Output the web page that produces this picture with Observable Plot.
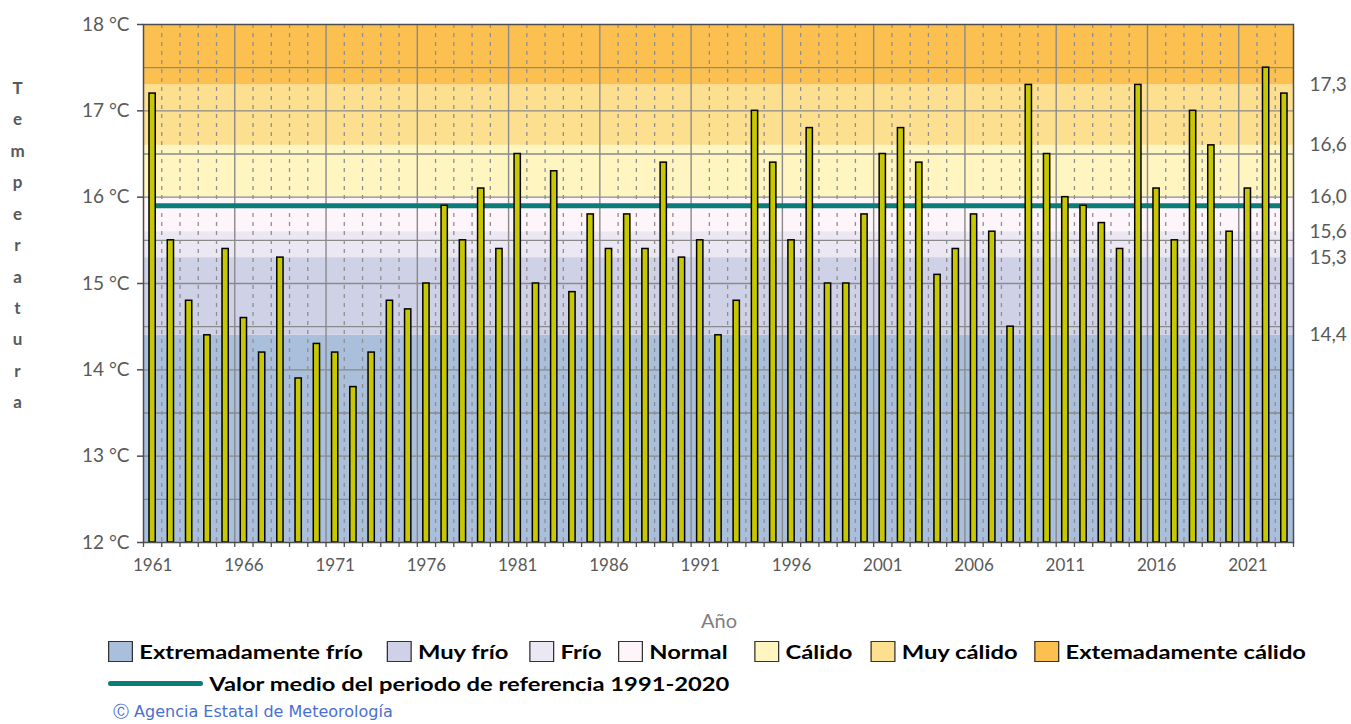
<!DOCTYPE html>
<html>
<head>
<meta charset="utf-8">
<script src="https://cdn.jsdelivr.net/npm/d3@7"></script>
<script src="https://cdn.jsdelivr.net/npm/@observablehq/plot@0.6"></script>
<style>
  html, body { margin: 0; padding: 0; background: #fff; }
  #wrap { position: relative; width: 1351px; height: 724px; overflow: hidden; font-family: Lato, "Noto Sans", sans-serif; }
  #chart { position: absolute; left: 0; top: 0; }
  #xlabel { position: absolute; left: 0; width: 1438px; top: 608px; text-align: center; color: #7f7f7f; font-size: 20px; }
  .legrow { position: absolute; left: 108px; height: 24px; width: 1000px; transform: scaleX(1.25); transform-origin: 0 50%; font-weight: bold; font-size: 19px; color: #000; white-space: nowrap; }
  .item { position: absolute; top: 0; height: 24px; display: flex; align-items: center; }
  .sw { width: 18px; height: 19px; border: 1.5px solid #333; margin-right: 5px; }
  .ln { width: 76px; height: 5px; background: #0b7d78; border-radius: 2px; margin-right: 5px; }
  #copy { position: absolute; left: 113px; top: 702px; line-height: 19px; color: #4a6fd0; font-family: "DejaVu Sans", sans-serif; font-size: 16px; }
</style>
</head>
<body>
<div id="wrap">
  <div id="chart"></div>
  <div id="xlabel">Año</div>
  <div class="legrow" id="leg1" style="top:639px;"></div>
  <div class="legrow" id="leg2" style="top:671px;"></div>
  <div id="copy">Ⓒ Agencia Estatal de Meteorología</div>
</div>
<script>
// ---- Data ----
const years = d3.range(1961, 2024);
const temps = [
  17.2, 15.5, 14.8, 14.4, 15.4, 14.6, 14.2, 15.3, 13.9, 14.3,
  14.2, 13.8, 14.2, 14.8, 14.7, 15.0, 15.9, 15.5, 16.1, 15.4,
  16.5, 15.0, 16.3, 14.9, 15.8, 15.4, 15.8, 15.4, 16.4, 15.3,
  15.5, 14.4, 14.8, 17.0, 16.4, 15.5, 16.8, 15.0, 15.0, 15.8,
  16.5, 16.8, 16.4, 15.1, 15.4, 15.8, 15.6, 14.5, 17.3, 16.5,
  16.0, 15.9, 15.7, 15.4, 17.3, 16.1, 15.5, 17.0, 16.6, 15.6,
  16.1, 17.5, 17.2
];
const meanValue = 15.9;
const categories = ["Extremadamente frío", "Muy frío", "Frío", "Normal", "Cálido", "Muy cálido", "Extemadamente cálido"];
const categoryColors = ["#a9bfdc", "#cfd1e7", "#ebe7f3", "#fdf5f9", "#fff5c0", "#fde08f", "#fcc050"];
const bounds = [12, 14.4, 15.3, 15.6, 16.0, 16.6, 17.3, 18];
const thresholds = [14.4, 15.3, 15.6, 16.0, 16.6, 17.3];
const yTicks = [12, 13, 14, 15, 16, 17, 18];
const yGrid = [12.5, 13, 13.5, 14, 14.5, 15, 15.5, 16, 16.5, 17, 17.5];
const xLabelYears = [1961, 1966, 1971, 1976, 1981, 1986, 1991, 1996, 2001, 2006, 2011, 2016, 2021];
const yLabel = "Temperatura";
const meanLabel = "Valor medio del periodo de referencia 1991-2020";

// ---- Derived tables ----
const bands = categories.map((c, i) => ({cat: c, lo: bounds[i], hi: bounds[i + 1], color: categoryColors[i]}));
const boundaries = d3.range(years[0] - 0.5, years[years.length - 1] + 1, 1);
const first = boundaries[0], last = boundaries[boundaries.length - 1];
const majorB = boundaries.filter(b => (b + 0.5 - years[0]) % 5 === 0 && b > first && b < last);
const minorB = boundaries.filter(b => !majorB.includes(b) && b > first && b < last);
const xDomain = [first, last];
const rows = years.map((y, i) => ({year: y, t: temps[i]}));

const grey = "#595959";
const chart = Plot.plot({
  width: 1351,
  height: 590,
  marginTop: 24,
  marginBottom: 48,
  marginLeft: 143,
  marginRight: 58,
  style: {fontFamily: "Lato, 'Noto Sans', sans-serif", fontSize: "17px", color: grey, background: "transparent"},
  x: {type: "linear", domain: xDomain, axis: null},
  y: {domain: [12, 18], axis: null},
  color: {type: "identity"},
  marks: [
    Plot.rect(bands, {x1: xDomain[0], x2: xDomain[1], y1: "lo", y2: "hi", fill: "color"}),
    Plot.ruleY(yGrid, {stroke: "#8a8a8a", strokeWidth: 1.4}),
    Plot.ruleX(minorB, {stroke: "#8f8f8f", strokeWidth: 1.3, strokeDasharray: "4,5"}),
    Plot.ruleX(majorB, {stroke: "#8a8a8a", strokeWidth: 1.4}),
    Plot.lineY(years, {x: d => d, y: () => meanValue, stroke: "#0b7d78", strokeWidth: 5}),
    Plot.rectY(rows, {x1: d => d.year - 0.5, x2: d => d.year + 0.5, y1: 12, y2: "t", insetLeft: 6, insetRight: 6, fill: "#c8c800", stroke: "#000", strokeWidth: 1.5}),
    Plot.frame({stroke: "#4d4d4d", strokeWidth: 1.5}),
    Plot.axisY(yTicks, {anchor: "left", tickSize: 6, tickPadding: 8, stroke: "#4d4d4d", strokeWidth: 1.5, tickFormat: d => d + " °C", fill: grey, fontSize: 19, label: null}),
    Plot.axisY(thresholds, {anchor: "right", tickSize: 0, tickPadding: 16, tickFormat: d => d.toFixed(1).replace(".", ","), fill: grey, fontSize: 19, label: null}),
    Plot.axisX(boundaries, {anchor: "bottom", tickSize: 5, stroke: "#4d4d4d", strokeWidth: 1.3, tickFormat: () => "", label: null}),
    Plot.axisX(xLabelYears, {anchor: "bottom", tickSize: 0, tickPadding: 16, tickFormat: d => String(d), fill: grey, fontSize: 17, label: null}),
    Plot.text([yLabel], {frameAnchor: "top-left", text: d => d.split("").join("\n"), dx: -126, dy: 47, lineAnchor: "top", lineHeight: 1.85, textAnchor: "middle", fontWeight: "bold", fill: grey, fontSize: 17})
  ]
});
document.getElementById("chart").appendChild(chart);

// ---- Legend (positions in unscaled px; row is stretched horizontally like the original) ----
const legLefts = [0, 223, 337, 408, 517, 610, 741];
const leg1 = document.getElementById("leg1");
categories.forEach((c, i) => {
  const it = document.createElement("div");
  it.className = "item";
  it.style.left = legLefts[i] + "px";
  const sw = document.createElement("div");
  sw.className = "sw";
  sw.style.background = categoryColors[i];
  const tx = document.createElement("span");
  tx.textContent = c;
  it.appendChild(sw); it.appendChild(tx);
  leg1.appendChild(it);
});
const leg2 = document.getElementById("leg2");
const it2 = document.createElement("div");
it2.className = "item";
it2.style.left = "0px";
const ln = document.createElement("div");
ln.className = "ln";
const tx2 = document.createElement("span");
tx2.textContent = meanLabel;
it2.appendChild(ln); it2.appendChild(tx2);
leg2.appendChild(it2);
</script>
</body>
</html>
